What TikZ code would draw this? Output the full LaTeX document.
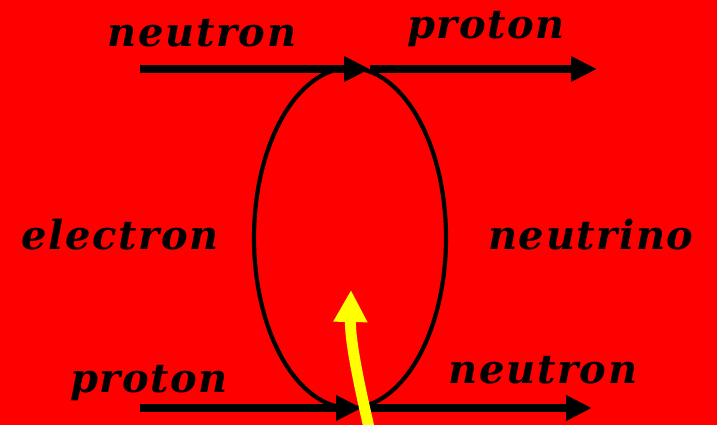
\documentclass[tikz,border=0pt]{standalone}
\usepackage{fontspec}
\setmainfont{DejaVu Serif}
\usetikzlibrary{shapes.geometric, arrows.meta, positioning}
\definecolor{bgred}{RGB}{255,0,0}
\definecolor{hotyellow}{RGB}{255,255,0}

\begin{document}
\begin{tikzpicture}[
    x=1pt, y=-1pt,
    particle/.style={font=\fontsize{40}{44}\selectfont\bfseries\itshape\addfontfeatures{LetterSpace=4}, inner sep=0pt},
    line/.style={line width=8, -{Triangle[length=26, width=24]}},
    loop/.style={ellipse, draw, line width=4.2, minimum width=192, minimum height=340, inner sep=0pt}
]
    \fill[bgred] (0,0) rectangle (717,425);
    \useasboundingbox (0,0) rectangle (717,425);

    % vertices
    \coordinate (tl) at (140,69);
    \coordinate (tv) at (370,69);
    \coordinate (tr) at (597,69);
    \coordinate (bl) at (140,408);
    \coordinate (bv) at (362,408);
    \coordinate (br) at (592,408);

    \node[loop] (w) at (350,238) {};

    \draw[line] (tl) -- (tv);
    \draw[line] (tv) -- (tr);
    \draw[line] (bl) -- (bv);
    \draw[line] (bv) -- (br);

    % labels
    \node[particle] (n1) at (202,33) {neutron};
    \node[particle] (p1) at (486,29) {proton};
    \node[particle] (e) at (120,235) {electron};
    \node[particle] (nu) at (591,235) {neutrino};
    \node[particle] (p2) at (149,383) {proton};
    \node[particle] (n2) at (543,370) {neutron};

    % photon
    \coordinate (ys) at (370,432);
    \coordinate (yt) at (351,290);
    \draw[hotyellow, line width=11, -{Triangle[length=32, width=32]}] (ys) .. controls (358,380) and (350,340) .. (yt);
\end{tikzpicture}
\end{document}
